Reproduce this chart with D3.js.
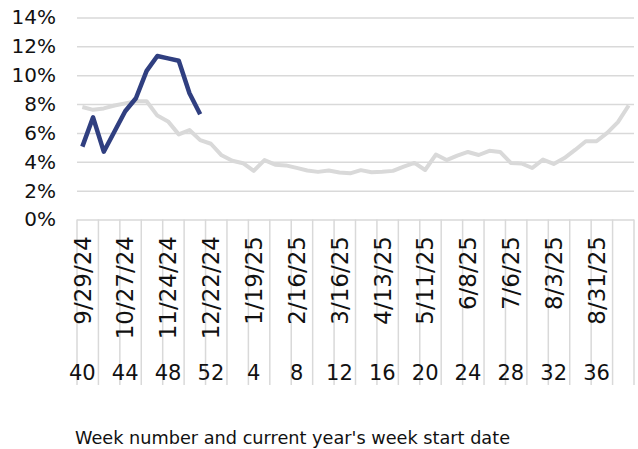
<!DOCTYPE html>
<html>
<head>
<meta charset="utf-8">
<script src="https://cdn.jsdelivr.net/npm/d3@7"></script>
<style>
    body { margin: 0; background: #fff; }
</style>
</head>
<body>
<div id="chart-area"></div>
<script>
// week numbers, Sept to Sept
var weeks = [40, 41, 42, 43, 44, 45, 46, 47, 48, 49, 50, 51, 52,
    1, 2, 3, 4, 5, 6, 7, 8, 9, 10, 11, 12, 13, 14, 15, 16, 17, 18, 19, 20,
    21, 22, 23, 24, 25, 26, 27, 28, 29, 30, 31, 32, 33, 34, 35, 36, 37, 38, 39];
var weekTicks = [40, 44, 48, 52, 4, 8, 12, 16, 20, 24, 28, 32, 36];
var dateTicks = ["9/29/24", "10/27/24", "11/24/24", "12/22/24", "1/19/25", "2/16/25",
    "3/16/25", "4/13/25", "5/11/25", "6/8/25", "7/6/25", "8/3/25", "8/31/25"];
var yTicks = [0, 2, 4, 6, 8, 10, 12, 14];

// percent positive
var lastSeason = [7.8, 7.6, 7.7, 7.9, 8.05, 8.2, 8.2, 7.2, 6.8, 5.9, 6.2, 5.5,
    5.25, 4.45, 4.07, 3.9, 3.37, 4.12, 3.8, 3.75, 3.58, 3.4, 3.3, 3.4, 3.26, 3.2,
    3.42, 3.27, 3.31, 3.37, 3.66, 3.92, 3.43, 4.5, 4.12, 4.42, 4.68, 4.47, 4.76, 4.68,
    3.92, 3.88, 3.57, 4.15, 3.85, 4.26, 4.82, 5.42, 5.42, 6.0, 6.75, 7.9];
var thisSeason = [5.05, 7.08, 4.7, 6.1, 7.5, 8.4, 10.3, 11.33, 11.17, 11.0, 8.75, 7.3];

var width = 638;
var height = 449;
var plotLeft = 77, plotRight = 634, plotTop = 17.5, plotBottom = 219.5, axisEnd = 385;
var font = "'DejaVu Sans', sans-serif";

var svg = d3.select("#chart-area").append("svg")
    .attr("width", width)
    .attr("height", height);

var x = d3.scaleBand()
    .domain(weeks)
    .range([plotLeft, plotRight])
    .padding(0);

var y = d3.scaleLinear()
    .domain([0, 14])
    .range([plotBottom, plotTop]);

// y Axis + horizontal grid
var yAxisCall = d3.axisLeft(y)
    .tickValues(yTicks)
    .tickSize(-(plotRight - plotLeft))
    .tickPadding(21)
    .tickFormat((d) => d + "%");
var yAxis = svg.append("g")
    .attr("class", "y axis")
    .attr("transform", "translate(" + plotLeft + ", 0)")
    .call(yAxisCall);
yAxis.select(".domain").remove();
yAxis.selectAll(".tick line")
    .attr("stroke", "#d9d9d9")
    .attr("stroke-width", 1.5);
yAxis.selectAll(".tick text")
    .attr("fill", "#111")
    .style("font-family", font)
    .style("font-size", "20px");

// vertical separators every 2 weeks
var seps = weeks.filter((d, i) => i % 2 == 0).map((d) => x(d)).concat([plotRight]);
svg.append("g")
    .selectAll("line")
    .data(seps)
    .enter()
    .append("line")
        .attr("x1", (d) => d)
        .attr("x2", (d) => d)
        .attr("y1", plotBottom)
        .attr("y2", axisEnd)
        .attr("stroke", "#d9d9d9")
        .attr("stroke-width", 1.5);

// week start dates
var dateAxisCall = d3.axisBottom(x)
    .tickValues(weekTicks)
    .tickSize(0)
    .tickFormat((d, i) => dateTicks[i]);
var dateAxis = svg.append("g")
    .attr("class", "x axis dates")
    .attr("transform", "translate(0, " + plotBottom + ")")
    .call(dateAxisCall);
dateAxis.select(".domain").remove();
dateAxis.selectAll(".tick text")
    .attr("x", -16.5)
    .attr("y", 0)
    .attr("dy", "0.36em")
    .attr("text-anchor", "end")
    .attr("transform", "rotate(-90)")
    .attr("fill", "#111")
    .style("font-family", font)
    .style("font-size", "23px");

// week numbers
var weekAxisCall = d3.axisBottom(x)
    .tickValues(weekTicks)
    .tickSize(0);
var weekAxis = svg.append("g")
    .attr("class", "x axis weeks")
    .attr("transform", "translate(0, " + plotBottom + ")")
    .call(weekAxisCall);
weekAxis.select(".domain").remove();
weekAxis.selectAll(".tick text")
    .attr("y", 160.5)
    .attr("dy", 0)
    .attr("fill", "#111")
    .style("font-family", font)
    .style("font-size", "21px");

// x Label
svg.append("text")
    .attr("x", 75)
    .attr("y", 444)
    .text("Week number and current year's week start date")
    .attr("fill", "#111")
    .style("font-family", font)
    .style("font-size", "17.7px");

var line = d3.line()
    .x((d, i) => x(weeks[i]) + x.bandwidth() / 2)
    .y((d) => y(d));

svg.append("path")
    .datum(lastSeason)
    .attr("d", line)
    .attr("fill", "none")
    .attr("stroke", "#d9d9d9")
    .attr("stroke-width", 4)
    .attr("stroke-linejoin", "round");

svg.append("path")
    .datum(thisSeason)
    .attr("d", line)
    .attr("fill", "none")
    .attr("stroke", "#303f80")
    .attr("stroke-width", 4.5)
    .attr("stroke-linejoin", "round");
</script>
</body>
</html>
